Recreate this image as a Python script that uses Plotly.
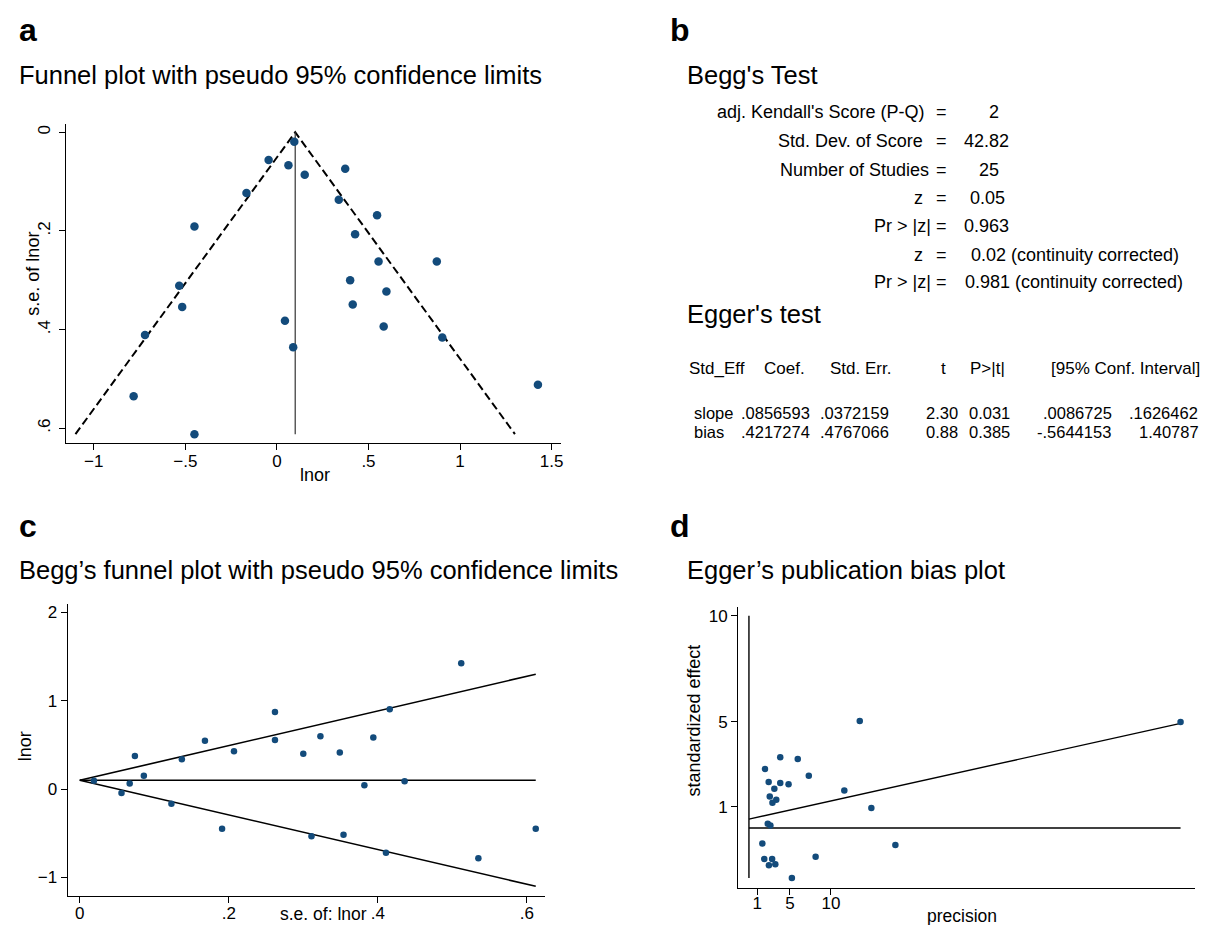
import numpy as np
import plotly.graph_objects as go

W, H = 1221, 925
FONT = "Liberation Sans, Arial, Helvetica, sans-serif"
DOT = "#134b7b"

# ---- study data ----
lnor = [0.095, -0.045, 0.063, 0.152, 0.373, -0.166, 0.338, 0.547, -0.450, 0.427,
        0.555, 0.873, -0.533, 0.400, 0.598, -0.517, 0.414, 0.044, 0.583, -0.720,
        0.903, 0.089, 1.425, -0.782, -0.450]
se_lnor = [0.019, 0.056, 0.067, 0.086, 0.074, 0.123, 0.137, 0.168, 0.191, 0.207,
           0.262, 0.262, 0.311, 0.300, 0.323, 0.354, 0.349, 0.382, 0.394, 0.411,
           0.416, 0.436, 0.512, 0.535, 0.612]
pooled_lnor = 0.1
z95 = 1.96
egger_slope = 0.0856593
egger_bias = 0.4217274
egger_vline_top = 10

# ---- tick labels ----
a_xticks = [-1, -0.5, 0, 0.5, 1, 1.5]
a_xticklabels = ["\u22121", "\u2212.5", "0", ".5", "1", "1.5"]
a_yticks = [0, 0.2, 0.4, 0.6]
a_yticklabels = ["0", ".2", ".4", ".6"]
c_xticks = [0, 0.2, 0.4, 0.6]
c_xticklabels = ["0", ".2", ".4", ".6"]
c_yticks = [-1, 0, 1, 2]
c_yticklabels = ["\u22121", "0", "1", "2"]
d_xticks = [1, 5, 10]
d_yticks = [1, 5, 10]

# ---- panel b text ----
begg_labels = ["adj. Kendall's Score (P-Q)", "Std. Dev. of Score", "Number of Studies",
               "z", "Pr > |z|", "z", "Pr > |z|"]
begg_values = ["2", "42.82", "25", "0.05", "0.963",
               "0.02 (continuity corrected)", "0.981 (continuity corrected)"]
egger_header = ["Std_Eff", "Coef.", "Std. Err.", "t", "P>|t|", "[95% Conf. Interval]"]
egger_rows = [["slope", ".0856593", ".0372159", "2.30", "0.031", ".0086725", ".1626462"],
              ["bias", ".4217274", ".4767066", "0.88", "0.385", "-.5644153", "1.40787"]]

lnor_a = np.array(lnor)
se_a = np.array(se_lnor)
se_max = se_a.max()
precision = 1.0 / se_a
std_effect = lnor_a / se_a
p_max = precision.max()


def X(px):
    return px / W


def Y(py):
    return 1 - py / H


fig = go.Figure()

# ---------- panel a ----------
fig.add_trace(go.Scatter(
    x=[pooled_lnor - z95 * se_max, pooled_lnor, pooled_lnor + z95 * se_max],
    y=[se_max, 0, se_max], mode="lines",
    line=dict(color="black", width=2, dash="8px,4px"), xaxis="x", yaxis="y"))
fig.add_trace(go.Scatter(x=[pooled_lnor, pooled_lnor], y=[0, se_max], mode="lines",
                         line=dict(color="#333333", width=1.2), xaxis="x", yaxis="y"))
fig.add_trace(go.Scatter(x=lnor, y=se_lnor, mode="markers",
                         marker=dict(color=DOT, size=8.5, line=dict(width=0)),
                         xaxis="x", yaxis="y"))

# ---------- panel c ----------
fig.add_trace(go.Scatter(x=[0, se_max], y=[pooled_lnor, pooled_lnor + z95 * se_max],
                         mode="lines", line=dict(color="black", width=1.6),
                         xaxis="x2", yaxis="y2"))
fig.add_trace(go.Scatter(x=[0, se_max], y=[pooled_lnor, pooled_lnor - z95 * se_max],
                         mode="lines", line=dict(color="black", width=1.6),
                         xaxis="x2", yaxis="y2"))
fig.add_trace(go.Scatter(x=[0, se_max], y=[pooled_lnor, pooled_lnor],
                         mode="lines", line=dict(color="black", width=1.6),
                         xaxis="x2", yaxis="y2"))
fig.add_trace(go.Scatter(x=se_lnor, y=lnor, mode="markers",
                         marker=dict(color=DOT, size=6.5, line=dict(width=0)),
                         xaxis="x2", yaxis="y2"))

# ---------- panel d ----------
fig.add_trace(go.Scatter(x=[0, 0], y=[std_effect.min(), egger_vline_top], mode="lines",
                         line=dict(color="black", width=1.4), xaxis="x3", yaxis="y3"))
fig.add_trace(go.Scatter(x=[0, p_max], y=[0, 0], mode="lines",
                         line=dict(color="black", width=1.4), xaxis="x3", yaxis="y3"))
fig.add_trace(go.Scatter(x=[0, p_max], y=[egger_bias, egger_bias + egger_slope * p_max],
                         mode="lines", line=dict(color="black", width=1.4),
                         xaxis="x3", yaxis="y3"))
fig.add_trace(go.Scatter(x=precision, y=std_effect, mode="markers",
                         marker=dict(color=DOT, size=6.5, line=dict(width=0)),
                         xaxis="x3", yaxis="y3"))

axis_common = dict(showline=True, linecolor="black", linewidth=1.4, ticks="outside",
                   ticklen=6, tickwidth=1.2, tickcolor="black", showgrid=False,
                   zeroline=False, mirror=False,
                   tickfont=dict(family=FONT, size=17, color="black"))

fig.update_layout(
    width=W, height=H, margin=dict(l=0, r=0, t=0, b=0),
    paper_bgcolor="white", plot_bgcolor="white", showlegend=False,
    xaxis=dict(domain=[X(58), X(554)], range=[-1.152, 1.549], tickvals=a_xticks,
               ticktext=a_xticklabels, anchor="y", ticklabelstandoff=-3, **axis_common),
    yaxis=dict(domain=[Y(434), Y(115)], range=[0.629, -0.017], tickvals=a_yticks,
               ticktext=a_yticklabels, tickangle=-90, anchor="x", ticklabelstandoff=2,
               **axis_common),
    xaxis2=dict(domain=[X(60), X(538)], range=[-0.016, 0.624], tickvals=c_xticks,
                ticktext=c_xticklabels, anchor="y2", ticklabelstandoff=-5, **axis_common),
    yaxis2=dict(domain=[Y(888), Y(596)], range=[-1.21, 2.09], tickvals=c_yticks,
                ticktext=c_yticklabels, anchor="x2", **axis_common),
    xaxis3=dict(domain=[X(732), X(1190)], range=[-1.31, 54.4], tickvals=d_xticks,
                anchor="y3", ticklabelstandoff=-7, **axis_common),
    yaxis3=dict(domain=[Y(880), Y(599)], range=[-2.83, 10.4], tickvals=d_yticks,
                anchor="x3", **axis_common),
)

ann = []


def text(px, py, s, size=18, xanchor="left", bold=False, angle=0):
    ann.append(dict(x=X(px), y=Y(py), xref="paper", yref="paper",
                    text=("<b>%s</b>" % s) if bold else s,
                    showarrow=False, xanchor=xanchor, yanchor="middle", textangle=angle,
                    font=dict(family=FONT, size=size, color="black")))


# panel letters and titles
text(9, 21, "a", size=32, bold=True)
text(662, 21, "b", size=32, bold=True)
text(9, 518, "c", size=32, bold=True)
text(662, 518, "d", size=32, bold=True)
text(9, 66.5, "Funnel plot with pseudo 95% confidence limits", size=25.5)
text(9, 562, "Begg\u2019s funnel plot with pseudo 95% confidence limits", size=25.5)
text(679, 562, "Egger\u2019s publication bias plot", size=25.5)
text(679, 66.5, "Begg's Test", size=25.5)
text(679, 305, "Egger's test", size=25.5)

# axis titles
text(308, 466.5, "lnor", size=18, xanchor="center")
text(25, 265, "s.e. of lnor", size=18, xanchor="center", angle=-90)
text(316, 906, "s.e. of: lnor", size=17.5, xanchor="center")
text(17, 738, "lnor", size=18, xanchor="center", angle=-90)
text(956, 908, "precision", size=17.5, xanchor="center")
text(688, 712, "standardized effect", size=18, xanchor="center", angle=-90)

# Begg's test block
begg_y = [103, 132, 161, 189, 217, 246, 273]
begg_label_end = [921, 919, 925, 919, 927, 919, 927]
begg_value_x = [981, 956, 971, 962, 956, 963, 957]
for lab, val, yy, xe, xv in zip(begg_labels, begg_values, begg_y, begg_label_end, begg_value_x):
    text(xe, yy, lab, size=18, xanchor="right")
    text(936, yy, "=", size=18, xanchor="center")
    text(xv, yy, val, size=18)

# Egger's test table
header_x = [681, 756, 822, 938, 962, 1044]
for h, xx in zip(egger_header, header_x):
    text(xx, 360, h, size=17, xanchor="center" if h == "t" else "left")
row_x = [686, 733, 812, 918, 961, 1036, 1122]
row_x_bias = [686, 733, 812, 918, 961, 1030, 1132]
for row, yy, xs in zip(egger_rows, [404, 423], [row_x, row_x_bias]):
    for s, xx in zip(row, xs):
        text(xx, yy, s, size=16.5)

fig.update_layout(annotations=ann)
fig.write_html("out.html")
